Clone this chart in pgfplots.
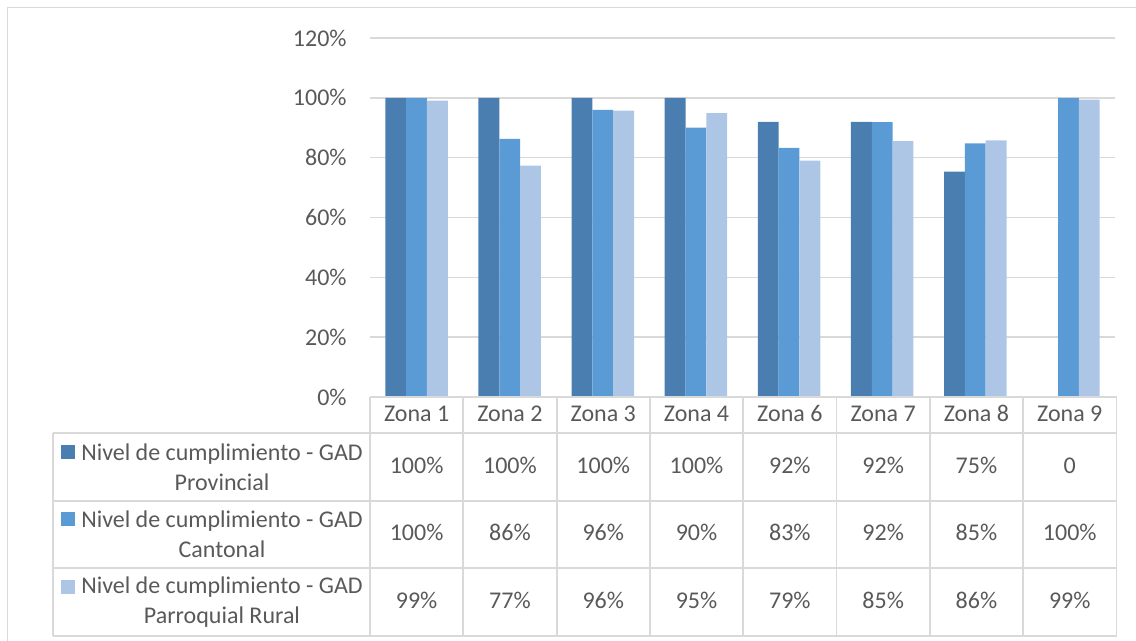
\documentclass[border=0pt]{standalone}
\usepackage{pgfplots}
\pgfplotsset{compat=1.18}
\usepackage{pgfplotstable}
\usepackage{fontspec}
\setmainfont{Carlito}

\definecolor{cprov}{HTML}{4A7EB0}
\definecolor{ccant}{HTML}{5B9BD5}
\definecolor{crur}{HTML}{ADC6E6}
\definecolor{cgrid}{HTML}{D9D9D9}
\definecolor{ctext}{HTML}{595959}

% nivel de cumplimiento (%) por zona
\pgfplotstableread{
x prov cant rur
0 100 100 99.1
1 100 86.3 77.3
2 100 96.0 95.7
3 100 90.0 94.9
4 92 83.3 79.0
5 92 91.9 85.5
6 75.3 84.8 85.8
7 0 100 99.4
}\datos

\begin{document}
\begin{tikzpicture}[x=0.5pt,y=-0.5pt,font=\fontsize{12}{15}\selectfont,text=ctext,
  celda/.style={text height=1.6ex,text depth=0.3ex,inner sep=0pt}]
\begin{axis}[at={(185pt,-198.5pt)},anchor=south west,scale only axis,
  width=372.5pt,height=179.5pt,
  xmin=-0.5,xmax=7.5,xtick=\empty,
  ymin=0,ymax=120,ytick={0,20,...,120},
  yticklabel={\pgfmathprintnumber{\tick}\%},
  /pgf/number format/assume math mode=true,
  yticklabel style={anchor=east,inner sep=0pt,xshift=-11.5pt,text=ctext,font=\fontsize{12}{14}\selectfont},
  ytick style={draw=none},
  axis line style={draw=none},
  ymajorgrids,grid style={cgrid,line width=0.8pt},
  ybar=0pt,bar width=0.2235,
  clip=false]
\addplot[fill=cprov,draw=none] table[x=x,y=prov]{\datos};
\addplot[fill=ccant,draw=none] table[x=x,y=cant]{\datos};
\addplot[fill=crur,draw=none] table[x=x,y=rur]{\datos};
\end{axis}

% tabla de datos
\begin{scope}[cgrid,line width=0.9pt]
\draw (370,397) -- (1116.5,397);
\foreach \y in {433,501,568,636} \draw (53,\y) -- (1116.5,\y);
\draw (53,433) -- (53,636);
\foreach \k in {0,...,8} \draw ({370+93.3*\k},397) -- ({370+93.3*\k},636);
\end{scope}

\foreach \z [count=\i] in {1,2,3,4,6,7,8,9}
  \node[celda] at ({370+93.3*(\i-0.5)},415) {Zona \z};

\foreach \v [count=\i] in {100\%,100\%,100\%,100\%,92\%,92\%,75\%,0}
  \node[celda] at ({370+93.3*(\i-0.5)},467) {\v};
\foreach \v [count=\i] in {100\%,86\%,96\%,90\%,83\%,92\%,85\%,100\%}
  \node[celda] at ({370+93.3*(\i-0.5)},534.5) {\v};
\foreach \v [count=\i] in {99\%,77\%,96\%,95\%,79\%,85\%,86\%,99\%}
  \node[celda] at ({370+93.3*(\i-0.5)},602) {\v};

\foreach \c/\t/\y in {cprov/Provincial/467,ccant/Cantonal/534.5,crur/Parroquial Rural/602}{
  \fill[\c] (61,{\y-22}) rectangle (75,{\y-8});
  \node[align=center,inner sep=0pt] at (222,\y) {Nivel de cumplimiento - GAD\\\t};
}

% marco exterior
\draw[cgrid,line width=0.7pt] (7.5,700) -- (7.5,7.5) -- (1200,7.5);

\pgfresetboundingbox
\path[use as bounding box] (0,0) rectangle (1136,641);
\end{tikzpicture}
\end{document}
